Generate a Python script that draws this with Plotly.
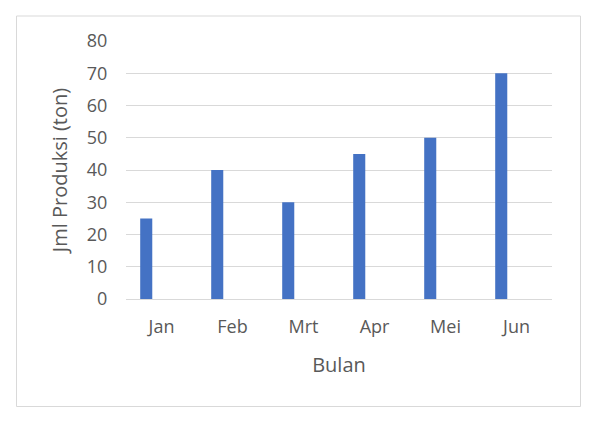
import plotly.graph_objects as go

months = ["Jan", "Feb", "Mrt", "Apr", "Mei", "Jun"]
produksi = [25, 40, 30, 45, 50, 70]
y_ticks = [0, 10, 20, 30, 40, 50, 60, 70, 80]

L, R, T, B = 126, 48, 41, 124
W, H = 600, 423
pw, ph = W - L - R, H - T - B

fig = go.Figure(go.Bar(
    x=months, y=produksi,
    marker=dict(color="#4472C4", line=dict(width=0)),
    width=0.17, offset=-0.3,
))

def px_x(px):
    return (px - L) / pw

def px_y(py):
    return (H - B - py) / ph

fig.add_shape(type="rect", xref="paper", yref="paper",
              x0=px_x(16.5), x1=px_x(580.5), y0=px_y(406.5), y1=px_y(16),
              line=dict(color="#d9d9d9", width=1), fillcolor="rgba(0,0,0,0)", layer="below")

font = "Open Sans, Liberation Sans, sans-serif"
fig.update_layout(
    width=W, height=H,
    margin=dict(l=L, r=R, t=T, b=B),
    paper_bgcolor="white", plot_bgcolor="white",
    showlegend=False,
    font=dict(family=font, color="#595959", size=16),
    xaxis=dict(
        type="category", range=[-0.5, 5.5],
        showgrid=False, showline=False, zeroline=False,
        ticks="outside", ticklen=11, tickcolor="rgba(0,0,0,0)",
        tickfont=dict(size=18, color="#595959"),
        title=dict(text="Bulan", font=dict(size=20, color="#595959"), standoff=21),
    ),
    yaxis=dict(
        range=[0, 80], tickvals=y_ticks,
        showgrid=True, gridcolor="#d9d9d9", gridwidth=1,
        zeroline=True, zerolinecolor="#d9d9d9", zerolinewidth=1,
        showline=False,
        ticks="outside", ticklen=14, tickcolor="rgba(0,0,0,0)",
        tickfont=dict(size=18, color="#595959"),
        title=dict(text="Jml Produksi (ton)", font=dict(size=20, color="#595959"), standoff=13),
    ),
)

fig.write_html("out.html", config={"displayModeBar": False},
               post_script="document.body.style.margin='0';document.body.style.overflow='hidden';")
